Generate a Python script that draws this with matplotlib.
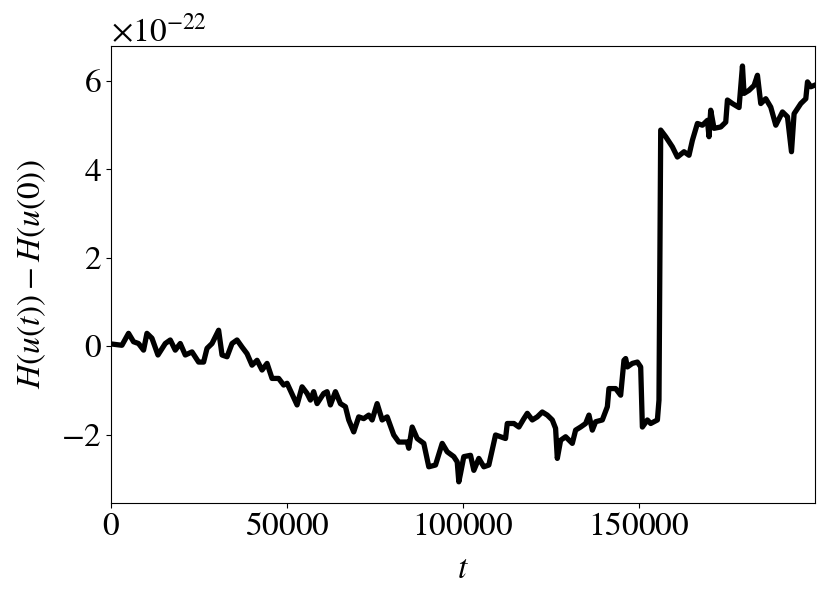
import numpy as np
import matplotlib
matplotlib.use("Agg")
import matplotlib.pyplot as plt

plt.rcParams['font.family'] = ['STIXGeneral', 'DejaVu Serif']
plt.rcParams['mathtext.fontset'] = 'stix'
plt.rcParams['axes.formatter.use_mathtext'] = True
plt.rcParams['font.size'] = 24

# czas i zmiana energii (jednostki 1e-22)
t = [0, 3040, 4920, 6340, 7760, 9190, 10150, 11570, 13280, 15360,
     16780, 18200, 19620, 21050, 22950, 24830, 26250, 27220, 28640, 29580,
     30520, 31490, 32910, 34330, 35750, 37170, 38590, 40010, 41440, 42860,
     44280, 45700, 47580, 49000, 49970, 52810, 54230, 55660, 56600, 57530,
     58500, 60380, 61340, 62280, 63710, 65130, 66550, 67490, 68910, 70330,
     71750, 73180, 74140, 75560, 76990, 78410, 80280, 81710, 84100, 84550,
     85520, 86940, 88820, 90240, 92150, 94050, 95470, 97350, 98320, 98770,
     99260, 100190, 102100, 103040, 104460, 105880, 107300, 108270, 109210, 112050,
     112540, 114420, 115840, 117260, 118230, 119650, 121070, 122490, 123910, 125330,
     126270, 126760, 127700, 129120, 131020, 131960, 133380, 134810, 135750, 136710,
     137650, 139550, 140980, 141430, 143340, 144760, 145700, 146180, 146670, 148090,
     149510, 150450, 150930, 152350, 153290, 155200, 155650, 156140, 157560, 159460,
     160880, 162760, 164180, 165150, 166570, 167990, 169410, 169870, 170350, 171290,
     173200, 174620, 175100, 176520, 178400, 179370, 179820, 181240, 182670, 183630,
     184570, 185990, 187410, 188840, 190740, 192160, 193300, 194040, 195950, 197370,
     197850, 198790, 199730]
dH = [0.05, 0.02, 0.29, 0.10, 0.06, -0.09, 0.29, 0.18, -0.20, 0.06,
      0.14, -0.09, 0.06, -0.20, -0.13, -0.36, -0.36, -0.05, 0.06, 0.21,
      0.36, -0.20, -0.24, 0.06, 0.14, -0.02, -0.17, -0.43, -0.32, -0.54,
      -0.39, -0.73, -0.73, -0.88, -0.84, -1.33, -0.92, -1.07, -1.22, -1.03,
      -1.30, -1.07, -1.03, -1.33, -1.03, -1.30, -1.37, -1.67, -1.94, -1.60,
      -1.64, -1.56, -1.67, -1.30, -1.67, -1.60, -2.01, -2.17, -2.17, -2.31,
      -1.83, -2.09, -2.20, -2.73, -2.69, -2.20, -2.39, -2.50, -2.62, -3.07,
      -2.88, -2.50, -2.47, -2.81, -2.54, -2.73, -2.69, -2.35, -2.01, -2.09,
      -1.75, -1.75, -1.83, -1.64, -1.52, -1.67, -1.60, -1.49, -1.56, -1.67,
      -1.86, -2.54, -2.13, -2.05, -2.20, -1.90, -1.83, -1.75, -1.56, -1.90,
      -1.71, -1.67, -1.37, -0.96, -0.96, -1.11, -0.32, -0.28, -0.47, -0.39,
      -0.36, -0.47, -1.83, -1.67, -1.75, -1.67, -1.22, 4.89, 4.74, 4.51,
      4.28, 4.40, 4.32, 4.66, 5.04, 5.00, 5.11, 4.74, 5.34, 4.93,
      4.96, 5.07, 5.57, 5.49, 5.40, 6.34, 5.72, 5.79, 5.90, 6.13,
      5.49, 5.60, 5.41, 5.00, 5.30, 5.19, 4.40, 5.26, 5.49, 5.60,
      5.98, 5.87, 5.90]

t = np.array(t)
dH = np.array(dH) * 1e-22

fig = plt.figure(figsize=(8.3, 6.09), dpi=100)
ax = fig.add_axes([0.134, 0.174, 0.848, 0.751])
ax.plot(t, dH, color='k', lw=3.8)
ax.set_xlim(0, 200000)
ax.set_ylim(-3.55e-22, 6.8e-22)
ax.set_xticks([0, 50000, 100000, 150000])
ax.set_yticks(np.array([-2, 0, 2, 4, 6]) * 1e-22)
ax.set_xlabel('$t$', labelpad=10)
ax.set_ylabel('$H(u(t)) - H(u(0))$', labelpad=9)

fig.savefig('out.png', dpi=100)
